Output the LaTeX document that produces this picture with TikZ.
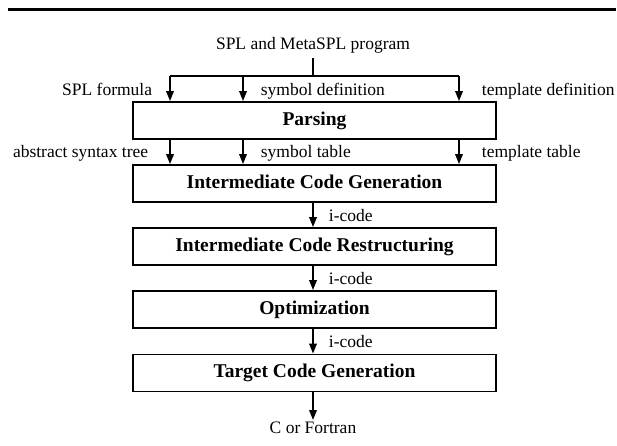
\documentclass[tikz,border=0pt]{standalone}
\usepackage{fontspec}
\setmainfont{Liberation Serif}
\usetikzlibrary{arrows.meta}
\begin{document}
\begin{tikzpicture}[x=1pt,y=-1pt,
  font=\fontsize{17.5}{20}\selectfont,
  line width=1.8pt,
  stage/.style={draw, rectangle, minimum width=363pt, minimum height=37pt,
    inner sep=0pt, font=\fontsize{19.5}{22}\selectfont\bfseries,
    text height=1.0em, text depth=0.03em},
  lbl/.style={inner sep=0pt, anchor=base west},
  flow/.style={-{Triangle[length=10pt,width=7.5pt]}}]
\useasboundingbox (0,0) rectangle (617,445);

% heavy rule across the top
\draw[line width=3pt] (8,9.5) -- (616,9.5);

% input text and its split into three streams
\node[inner sep=0pt, anchor=base] (title) at (313,49) {SPL and MetaSPL program};
\coordinate (top) at (313,58);
\coordinate (split) at (313,76);
\coordinate (splitL) at (170,76);
\coordinate (splitB) at (243,76);
\coordinate (splitR) at (459,76);

% processing stages
\node[stage] (parse) at (314.5,120.5) {Parsing};
\node[stage] (icg) at (314.5,183.5) {Intermediate Code Generation};
\node[stage] (icr) at (314.5,246.5) {Intermediate Code Restructuring};
\node[stage] (opt) at (314.5,309.5) {Optimization};
\node[stage] (tcg) at (314.5,373) {Target Code Generation};

\node[inner sep=0pt, anchor=base] (out) at (313,433) {C or Fortran};
\coordinate (outtop) at (313,420);

% stream labels
\node[inner sep=0pt, anchor=base east] (spl) at (153,95) {SPL formula};
\node[lbl] (symdef) at (260,95) {symbol definition};
\node[lbl] (tpldef) at (481,95) {template definition};
\node[inner sep=0pt, anchor=base east] (ast) at (149,157) {abstract syntax tree};
\node[lbl] (symtab) at (260,157) {symbol table};
\node[lbl] (tpltab) at (481,157) {template table};
\node[lbl] (ic1) at (328,221) {i-code};
\node[lbl] (ic2) at (328,284) {i-code};
\node[lbl] (ic3) at (328,347) {i-code};

% connectors
\draw (top) -- (split);
\draw (splitL) -- (splitR);
\draw[flow] (splitL) -- (splitL |- parse.north);
\draw[flow] (splitB) -- (splitB |- parse.north);
\draw[flow] (splitR) -- (splitR |- parse.north);
\draw[flow] (splitL |- parse.south) -- (splitL |- icg.north);
\draw[flow] (splitB |- parse.south) -- (splitB |- icg.north);
\draw[flow] (splitR |- parse.south) -- (splitR |- icg.north);
\draw[flow] (split |- icg.south) -- (split |- icr.north);
\draw[flow] (split |- icr.south) -- (split |- opt.north);
\draw[flow] (split |- opt.south) -- (split |- tcg.north);
\draw[flow] (split |- tcg.south) -- (outtop);
\end{tikzpicture}
\end{document}
